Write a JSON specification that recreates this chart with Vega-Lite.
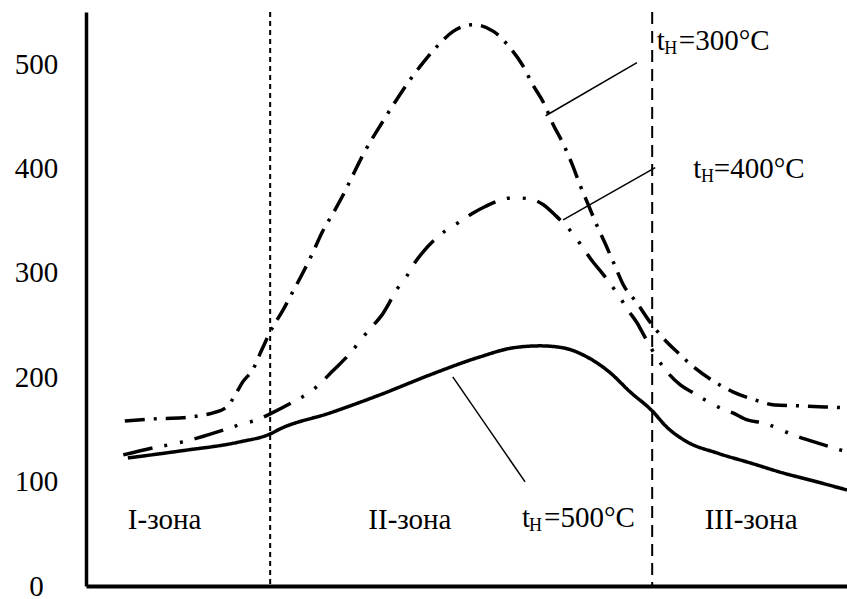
{
  "$schema": "https://vega.github.io/schema/vega-lite/v6.json",
  "width": 761,
  "height": 574,
  "autosize": {"type": "none"},
  "padding": {"left": 86, "top": 12, "right": 0, "bottom": 13},
  "background": "white",
  "config": {
    "view": {"stroke": null},
    "font": "Liberation Serif"
  },
  "datasets": {
    "curves": [
      {"s": "300", "x": 5.1, "y": 158.2}, {"s": "300", "x": 8.8, "y": 160.1}, {"s": "300", "x": 12.7, "y": 161.1},
      {"s": "300", "x": 14.7, "y": 163.0}, {"s": "300", "x": 16.7, "y": 165.9}, {"s": "300", "x": 18.5, "y": 171.6},
      {"s": "300", "x": 19.6, "y": 183.1}, {"s": "300", "x": 20.6, "y": 195.6}, {"s": "300", "x": 21.9, "y": 207.1},
      {"s": "300", "x": 23.1, "y": 226.3}, {"s": "300", "x": 24.2, "y": 243.5}, {"s": "300", "x": 25.9, "y": 264.6},
      {"s": "300", "x": 27.1, "y": 280.9}, {"s": "300", "x": 28.5, "y": 300.1}, {"s": "300", "x": 29.8, "y": 319.3},
      {"s": "300", "x": 31.0, "y": 338.5}, {"s": "300", "x": 32.5, "y": 357.6}, {"s": "300", "x": 33.8, "y": 374.9},
      {"s": "300", "x": 35.1, "y": 394.1}, {"s": "300", "x": 36.4, "y": 413.2}, {"s": "300", "x": 38.9, "y": 443.9},
      {"s": "300", "x": 40.9, "y": 466.9}, {"s": "300", "x": 42.6, "y": 485.2}, {"s": "300", "x": 44.3, "y": 501.5},
      {"s": "300", "x": 46.1, "y": 516.8}, {"s": "300", "x": 48.2, "y": 531.2}, {"s": "300", "x": 50.9, "y": 537.9},
      {"s": "300", "x": 53.6, "y": 531.2}, {"s": "300", "x": 55.7, "y": 515.8}, {"s": "300", "x": 57.4, "y": 498.6},
      {"s": "300", "x": 58.7, "y": 480.4}, {"s": "300", "x": 60.2, "y": 462.1}, {"s": "300", "x": 61.4, "y": 442.0},
      {"s": "300", "x": 62.7, "y": 423.8}, {"s": "300", "x": 63.9, "y": 403.7}, {"s": "300", "x": 64.9, "y": 384.5},
      {"s": "300", "x": 66.0, "y": 365.3}, {"s": "300", "x": 67.1, "y": 346.1}, {"s": "300", "x": 68.3, "y": 327.0},
      {"s": "300", "x": 69.5, "y": 306.8}, {"s": "300", "x": 70.6, "y": 288.6}, {"s": "300", "x": 72.4, "y": 271.3},
      {"s": "300", "x": 74.1, "y": 253.1}, {"s": "300", "x": 75.8, "y": 237.8}, {"s": "300", "x": 77.8, "y": 223.4},
      {"s": "300", "x": 80.0, "y": 209.0}, {"s": "300", "x": 82.4, "y": 196.6}, {"s": "300", "x": 85.0, "y": 186.0},
      {"s": "300", "x": 87.9, "y": 178.3}, {"s": "300", "x": 90.5, "y": 173.5}, {"s": "300", "x": 93.8, "y": 172.6},
      {"s": "300", "x": 97.1, "y": 171.6}, {"s": "300", "x": 100, "y": 170.7},

      {"s": "400", "x": 4.9, "y": 125.6}, {"s": "400", "x": 8.8, "y": 132.3}, {"s": "400", "x": 10.8, "y": 135.2},
      {"s": "400", "x": 12.7, "y": 138.1}, {"s": "400", "x": 14.7, "y": 141.9}, {"s": "400", "x": 18.5, "y": 150.5},
      {"s": "400", "x": 20.5, "y": 155.3}, {"s": "400", "x": 22.5, "y": 159.2}, {"s": "400", "x": 24.2, "y": 164.9},
      {"s": "400", "x": 27.7, "y": 178.3}, {"s": "400", "x": 29.3, "y": 185.0}, {"s": "400", "x": 31.0, "y": 195.6},
      {"s": "400", "x": 32.3, "y": 205.2}, {"s": "400", "x": 35.1, "y": 226.3}, {"s": "400", "x": 36.3, "y": 237.8},
      {"s": "400", "x": 37.7, "y": 249.3}, {"s": "400", "x": 38.9, "y": 259.8}, {"s": "400", "x": 41.0, "y": 285.7},
      {"s": "400", "x": 42.1, "y": 296.3}, {"s": "400", "x": 43.2, "y": 309.7}, {"s": "400", "x": 44.3, "y": 320.2},
      {"s": "400", "x": 47.4, "y": 341.3}, {"s": "400", "x": 48.9, "y": 348.0}, {"s": "400", "x": 50.7, "y": 356.7},
      {"s": "400", "x": 52.4, "y": 363.4}, {"s": "400", "x": 56.1, "y": 372.0}, {"s": "400", "x": 58.2, "y": 371.1},
      {"s": "400", "x": 60.1, "y": 365.3}, {"s": "400", "x": 61.6, "y": 355.7}, {"s": "400", "x": 64.3, "y": 334.6},
      {"s": "400", "x": 65.3, "y": 324.1}, {"s": "400", "x": 66.6, "y": 310.7}, {"s": "400", "x": 67.8, "y": 300.1},
      {"s": "400", "x": 70.2, "y": 276.1}, {"s": "400", "x": 71.2, "y": 264.6}, {"s": "400", "x": 72.4, "y": 252.2},
      {"s": "400", "x": 73.5, "y": 237.8}, {"s": "400", "x": 75.2, "y": 216.7}, {"s": "400", "x": 76.7, "y": 202.3},
      {"s": "400", "x": 78.1, "y": 192.7}, {"s": "400", "x": 79.8, "y": 185.0}, {"s": "400", "x": 83.3, "y": 170.7},
      {"s": "400", "x": 85.0, "y": 165.9}, {"s": "400", "x": 86.9, "y": 159.2}, {"s": "400", "x": 89.0, "y": 156.3},
      {"s": "400", "x": 92.9, "y": 144.8}, {"s": "400", "x": 96.1, "y": 137.1}, {"s": "400", "x": 100, "y": 128.5},

      {"s": "500", "x": 5.5, "y": 122.7}, {"s": "500", "x": 12.4, "y": 129.4}, {"s": "500", "x": 20.2, "y": 138.1},
      {"s": "500", "x": 24.2, "y": 145.7}, {"s": "500", "x": 25.5, "y": 150.5}, {"s": "500", "x": 32.1, "y": 165.9},
      {"s": "500", "x": 38.6, "y": 183.1}, {"s": "500", "x": 45.2, "y": 202.3}, {"s": "500", "x": 51.8, "y": 219.6},
      {"s": "500", "x": 56.1, "y": 228.2}, {"s": "500", "x": 59.7, "y": 230.1}, {"s": "500", "x": 62.7, "y": 228.2},
      {"s": "500", "x": 65.8, "y": 219.6}, {"s": "500", "x": 68.9, "y": 204.2}, {"s": "500", "x": 71.5, "y": 186.0},
      {"s": "500", "x": 74.4, "y": 167.8}, {"s": "500", "x": 76.3, "y": 152.4}, {"s": "500", "x": 79.0, "y": 138.1},
      {"s": "500", "x": 82.9, "y": 127.5}, {"s": "500", "x": 87.3, "y": 117.9}, {"s": "500", "x": 91.6, "y": 108.3},
      {"s": "500", "x": 96.1, "y": 99.7}, {"s": "500", "x": 100, "y": 92.0}
    ],
    "zones": [
      {"x": 24.2, "kind": "dotted"},
      {"x": 74.4, "kind": "dashed"}
    ],
    "leaders": [
      {"x": 60.4, "y": 450.6, "x2": 72.4, "y2": 501.5},
      {"x": 62.7, "y": 350.9, "x2": 74.8, "y2": 400.8},
      {"x": 48.2, "y": 200.4, "x2": 57.7, "y2": 99.7}
    ],
    "labels": [
      {"x": 5.5, "y": 54.7, "text": "I-зона", "part": "main"},
      {"x": 37.1, "y": 54.7, "text": "II-зона", "part": "main"},
      {"x": 81.3, "y": 54.7, "text": "III-зона", "part": "main"},
      {"x": 75.0, "y": 513.9, "text": "t", "part": "main"},
      {"x": 76.0, "y": 510.1, "text": "H", "part": "sub"},
      {"x": 77.9, "y": 513.9, "text": "=300°C", "part": "main"},
      {"x": 79.8, "y": 391.2, "text": "t", "part": "main"},
      {"x": 80.8, "y": 387.4, "text": "H", "part": "sub"},
      {"x": 82.5, "y": 391.2, "text": "=400°C", "part": "main"},
      {"x": 57.3, "y": 56.6, "text": "t", "part": "main"},
      {"x": 58.2, "y": 52.7, "text": "H", "part": "sub"},
      {"x": 60.2, "y": 56.6, "text": "=500°C", "part": "main"}
    ]
  },
  "layer": [
    {
      "data": {"name": "zones"},
      "transform": [{"filter": "datum.kind === 'dotted'"}],
      "mark": {"type": "rule", "color": "black", "strokeWidth": 2, "strokeDash": [5, 4]},
      "encoding": {
        "x": {"field": "x", "type": "quantitative", "scale": {"domain": [0, 100], "nice": false, "zero": false},
              "axis": {"domain": true, "domainColor": "black", "domainWidth": 4, "labels": false, "ticks": false, "grid": false, "title": null}}
      }
    },
    {
      "data": {"name": "zones"},
      "transform": [{"filter": "datum.kind === 'dashed'"}],
      "mark": {"type": "rule", "color": "black", "strokeWidth": 2, "strokeDash": [12, 7]},
      "encoding": {
        "x": {"field": "x", "type": "quantitative"}
      }
    },
    {
      "data": {"name": "curves"},
      "mark": {"type": "line", "color": "black", "strokeWidth": 3.5, "interpolate": "monotone", "strokeCap": "butt"},
      "encoding": {
        "x": {"field": "x", "type": "quantitative"},
        "y": {"field": "y", "type": "quantitative",
              "scale": {"domain": [0, 550], "nice": false},
              "axis": {"values": [0, 100, 200, 300, 400, 500], "domain": true, "domainColor": "black", "domainWidth": 3.5,
                       "ticks": false, "tickSize": 0, "grid": false, "title": null,
                       "labelFont": "Liberation Serif", "labelFontSize": 29, "labelColor": "black",
                       "labelAlign": "center", "labelBaseline": "middle", "labelPadding": 50}},
        "detail": {"field": "s"},
        "strokeDash": {"field": "s", "type": "nominal", "legend": null,
                       "scale": {"domain": ["300", "400", "500"], "range": [[20, 9, 3, 9], [30, 12, 3, 13, 3, 12], [1, 0]]}}
      }
    },
    {
      "data": {"name": "leaders"},
      "mark": {"type": "rule", "color": "black", "strokeWidth": 1.5},
      "encoding": {
        "x": {"field": "x", "type": "quantitative"},
        "y": {"field": "y", "type": "quantitative"},
        "x2": {"field": "x2"},
        "y2": {"field": "y2"}
      }
    },
    {
      "data": {"name": "labels"},
      "transform": [{"filter": "datum.part === 'main'"}],
      "mark": {"type": "text", "font": "Liberation Serif", "fontSize": 29, "align": "left", "baseline": "alphabetic", "color": "black"},
      "encoding": {
        "x": {"field": "x", "type": "quantitative"},
        "y": {"field": "y", "type": "quantitative"},
        "text": {"field": "text"}
      }
    },
    {
      "data": {"name": "labels"},
      "transform": [{"filter": "datum.part === 'sub'"}],
      "mark": {"type": "text", "font": "Liberation Serif", "fontSize": 18, "align": "left", "baseline": "alphabetic", "color": "black"},
      "encoding": {
        "x": {"field": "x", "type": "quantitative"},
        "y": {"field": "y", "type": "quantitative"},
        "text": {"field": "text"}
      }
    }
  ]
}
